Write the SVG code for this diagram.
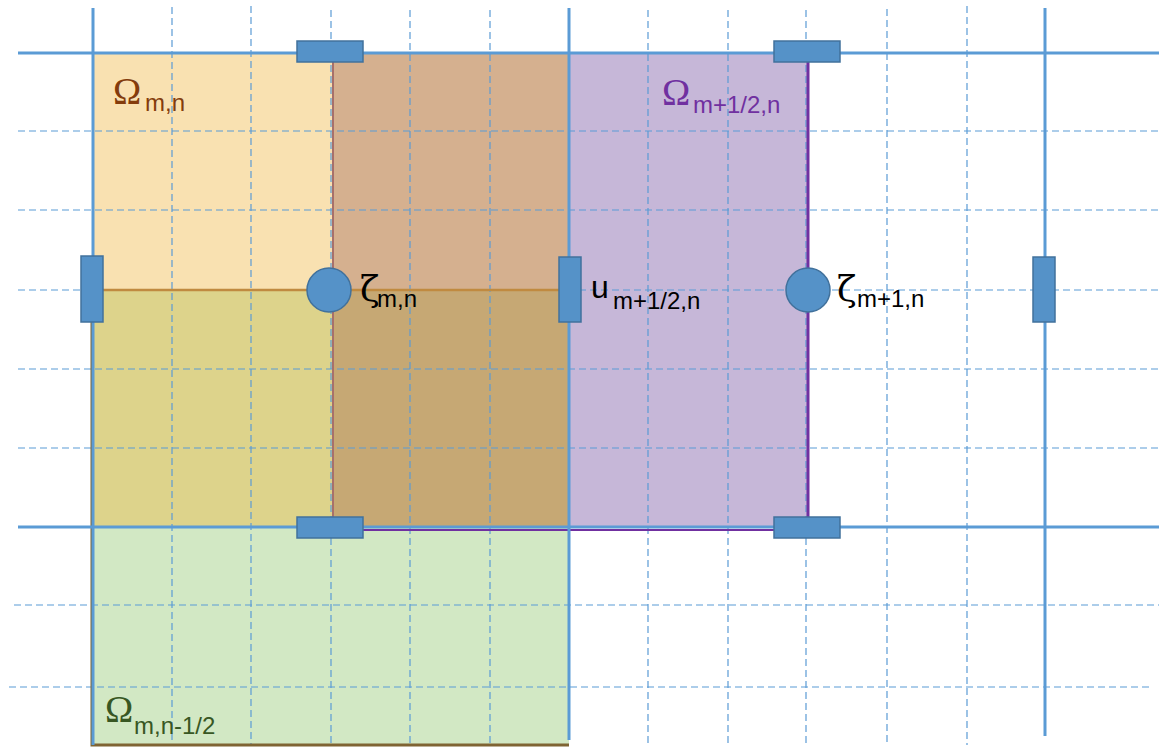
<svg xmlns="http://www.w3.org/2000/svg" width="1159" height="747" viewBox="0 0 1159 747">
<style>
.dash{stroke:#5B9BD5;stroke-width:1.2;stroke-dasharray:7 4;fill:none}
.solid{stroke:#5B9BD5;stroke-width:3;fill:none}
.pad{fill:#5592C8;stroke:#41719C;stroke-width:1.5}
.big{font-family:"Liberation Serif",serif;font-size:38px}
.zeta{font-family:"DejaVu Serif",serif;font-size:36px}
.sub{font-family:"Liberation Sans",sans-serif;font-size:24px}
</style>
<rect width="1159" height="747" fill="#ffffff"/>
<g id="regions">
<rect x="93" y="52" width="239" height="238" fill="#F9E1B1"/>
<rect x="332" y="52" width="237" height="238" fill="#D5B08F"/>
<rect x="93" y="290" width="239" height="237" fill="#DDD38B"/>
<rect x="332" y="290" width="237" height="237" fill="#C6A874"/>
<rect x="569" y="52" width="239" height="475" fill="#C6B7D8"/>
<rect x="93" y="527" width="476" height="217" fill="#D2E8C4"/>
</g>
<g id="grid">
<path class="dash" d="M172 7V745M251 6V745M331 10V745M410 10V745M490 10V745M648 10V745M728 10V745M806 10V745M887 9V745M967 6V745"/>
<path class="dash" d="M18 131H1159M18 210H1159M18 290H1159M18 369H1159M18 448H1159M14 605H1159M9 687H1152"/>
</g>
<g id="borders">
<path d="M333 52V527" stroke="#A8706A" stroke-width="2" fill="none"/>
<path d="M808 55V527" stroke="#7030A0" stroke-width="3" fill="none"/>
<path d="M332 530H808" stroke="#7030A0" stroke-width="2" fill="none"/>
<path d="M93 290H569" stroke="#C08A40" stroke-width="2.5" fill="none"/>
<path d="M92 290V745H569" stroke="#7F6433" stroke-width="3" fill="none"/>
</g>
<g id="connectors">
<path class="solid" d="M18 53H1159M18 527H1159"/>
<path class="solid" d="M93 8V745M569 8V740M1045 8V736"/>
</g>
<g id="u-nodes">
<rect class="pad" x="297" y="41" width="66" height="21"/>
<rect class="pad" x="774" y="41" width="66" height="21"/>
<rect class="pad" x="297" y="517" width="66" height="21"/>
<rect class="pad" x="774" y="517" width="66" height="21"/>
<rect class="pad" x="81" y="256" width="22" height="66"/>
<rect class="pad" x="559" y="257" width="22" height="65"/>
<rect class="pad" x="1033" y="257" width="22" height="65"/>
</g>
<g id="zeta-nodes">
<circle class="pad" cx="329" cy="290" r="22"/>
<circle class="pad" cx="808" cy="290" r="22"/>
</g>
<g id="labels">
<text x="113" y="104" class="big" fill="#843C0C">Ω</text>
<text x="145" y="111" class="sub" fill="#843C0C">m,n</text>
<text x="662" y="105" class="big" fill="#7030A0">Ω</text>
<text x="693" y="113" class="sub" fill="#7030A0">m+1/2,n</text>
<text x="105" y="722" class="big" fill="#385723">Ω</text>
<text x="134" y="734" class="sub" fill="#385723">m,n-1/2</text>
<text x="360" y="301" class="zeta" fill="#000">ζ</text>
<text x="377" y="307" class="sub" fill="#000">m,n</text>
<text x="837" y="301" class="zeta" fill="#000">ζ</text>
<text x="857" y="307" class="sub" fill="#000">m+1,n</text>
<text x="591" y="298" font-family="Liberation Sans,sans-serif" font-size="32" fill="#000">u</text>
<text x="613" y="309" class="sub" fill="#000">m+1/2,n</text>
</g>
</svg>
